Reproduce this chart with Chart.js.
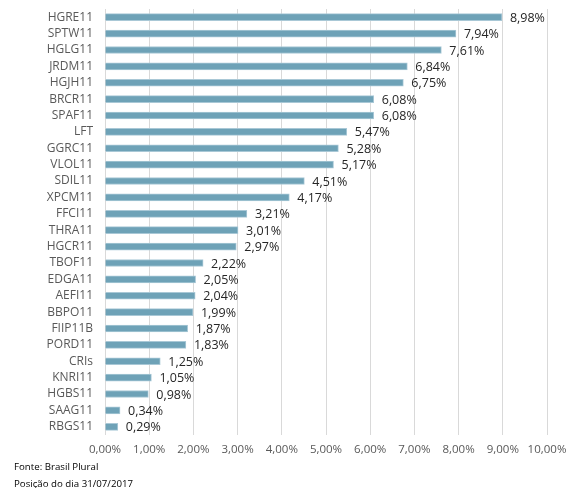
<!DOCTYPE html>
<html><head><meta charset="utf-8">
<script src="https://cdn.jsdelivr.net/npm/chart.js@4/dist/chart.umd.min.js"></script>
<style>
html,body{margin:0;padding:0;background:#fff;}
#wrap{position:relative;width:566px;height:488px;}
#c{position:absolute;left:0;top:0;}
.foot{position:absolute;left:14px;font-family:"Open Sans","Noto Sans",sans-serif;font-size:9.7px;line-height:13px;color:#000;}
</style></head>
<body>
<div id="wrap">
<canvas id="c" width="566" height="462"></canvas>
<div class="foot" style="top:460px">Fonte: Brasil Plural</div>
<div class="foot" style="top:477px">Posição do dia 31/07/2017</div>
</div>
<script>
const categories = ["HGRE11","SPTW11","HGLG11","JRDM11","HGJH11","BRCR11","SPAF11","LFT","GGRC11","VLOL11","SDIL11","XPCM11","FFCI11","THRA11","HGCR11","TBOF11","EDGA11","AEFI11","BBPO11","FIIP11B","PORD11","CRIs","KNRI11","HGBS11","SAAG11","RBGS11"];
const values = [8.98,7.94,7.61,6.84,6.75,6.08,6.08,5.47,5.28,5.17,4.51,4.17,3.21,3.01,2.97,2.22,2.05,2.04,1.99,1.87,1.83,1.25,1.05,0.98,0.34,0.29];
const xTicks = [0,1,2,3,4,5,6,7,8,9,10];

const fmt = v => v.toFixed(2).replace('.', ',') + '%';
const FONT = '"Open Sans","Noto Sans",sans-serif';

const labelPlugin = {
  id: 'vlabels',
  afterDatasetsDraw(chart) {
    const ctx = chart.ctx;
    const meta = chart.getDatasetMeta(0);
    ctx.save();
    ctx.font = '12.5px ' + FONT;
    ctx.fillStyle = '#262626';
    ctx.textBaseline = 'middle';
    ctx.textAlign = 'left';
    meta.data.forEach((el, i) => {
      ctx.fillText(fmt(values[i]), el.x + 8, el.y + 1);
    });
    ctx.restore();
  }
};

new Chart(document.getElementById('c'), {
  type: 'bar',
  data: {
    labels: categories,
    datasets: [{
      data: values,
      backgroundColor: '#6ea2b7',
      borderColor: '#a9c8d6',
      borderWidth: 1,
      barThickness: 7
    }]
  },
  options: {
    indexAxis: 'y',
    responsive: false,
    animation: false,
    layout: { padding: { left: 0, right: 19, top: 9, bottom: 0 } },
    plugins: { legend: { display: false }, tooltip: { enabled: false } },
    scales: {
      x: {
        min: 0, max: 10,
        afterBuildTicks(scale) { scale.ticks = xTicks.map(v => ({ value: v })); },
        afterFit(scale) { scale.height = 27; scale.paddingLeft = 0; scale.paddingRight = 0; },
        ticks: {
          callback: v => fmt(v),
          color: '#595959',
          font: { family: FONT, size: 11.5 },
          padding: 8,
          maxRotation: 0
        },
        grid: { color: '#d9d9d9', drawTicks: false },
        border: { display: false }
      },
      y: {
        afterFit(scale) { scale.width = 105; scale.paddingTop = 0; scale.paddingBottom = 0; },
        ticks: {
          color: '#595959',
          font: { family: FONT, size: 12 },
          padding: 12,
          autoSkip: false
        },
        grid: { display: false, drawTicks: false },
        border: { display: false }
      }
    }
  },
  plugins: [labelPlugin]
});
</script>
</body></html>
